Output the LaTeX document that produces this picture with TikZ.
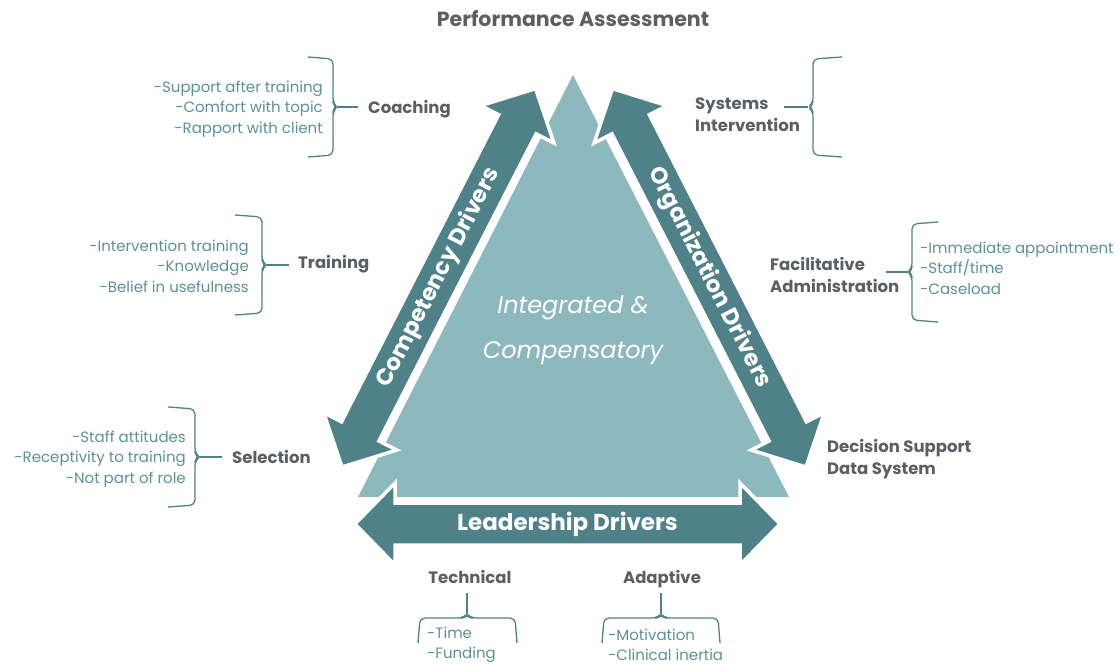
\documentclass[tikz,border=0pt]{standalone}
\usepackage{fontspec}
\setmainfont{Poppins}
\usetikzlibrary{calc}
\definecolor{drvteal}{HTML}{4F8188}
\definecolor{trilight}{HTML}{8DB8BE}
\definecolor{lblgray}{HTML}{595F63}
\definecolor{itemteal}{HTML}{5B9198}
\tikzset{
  lbl/.style={font=\fontsize{16.5}{22}\selectfont\bfseries, text=lblgray, inner sep=0, align=left},
  items/.style={font=\fontsize{15}{20.5}\selectfont, text=itemteal, inner sep=0},
  brc/.style={draw=drvteal, line width=1.3pt, rounded corners=5pt},
  drv/.style={fill=drvteal, draw=white, line width=3.5pt, line join=miter},
  drvtxt/.style={font=\fontsize{23}{26}\selectfont\bfseries, text=white, inner sep=0},
}

\begin{document}
\begin{tikzpicture}[x=1pt, y=-1pt]
\useasboundingbox (0,0) rectangle (1119,665);
% inner triangle
\fill[trilight] (573,75) -- (789,497) -- (358,497) -- cycle;
\node[font=\fontsize{24}{45}\selectfont\itshape, text=white, align=center] (integ) at (573,330) {Integrated \&\\Compensatory};
% the three driver arrows
\foreach \px/\py/\ang/\tang/\txt in {355/524/0/0/Leadership Drivers, 342/467/62.9/62.9/Competency Drivers, 806/467/117.1/-62.9/Organization Drivers} {
 \begin{scope}[shift={(\px,\py)}, rotate=\ang]
 \draw[drv] (0,0) -- (40,-41) -- (40,-21) -- (385,-21) -- (385,-41) -- (425,0) -- (385,41) -- (385,21) -- (40,21) -- (40,41) -- cycle;
 \node[drvtxt, rotate=\tang] at (212.5,0) {\txt};
 \end{scope}
}
% labels
\node[lbl, font=\fontsize{20.5}{22}\selectfont\bfseries] (perf) at (573,19) {Performance Assessment};
\node[lbl, anchor=west] (coach) at (368,109) {Coaching};
\node[lbl, anchor=west] (train) at (298,264) {Training};
\node[lbl, anchor=west] (select) at (232,457) {Selection};
\node[lbl, anchor=west] (sysint) at (695,115) {Systems\\Intervention};
\node[lbl, anchor=west] (facil) at (770,275) {Facilitative\\Administration};
\node[lbl, anchor=west] (dsds) at (827,459) {Decision Support\\Data System};
\node[lbl, anchor=base] (tech) at (470,583) {Technical};
\node[lbl, anchor=base] (adapt) at (662,583) {Adaptive};
% items
\node[items, anchor=east, align=right] (coachit) at (323,109) {-Support after training\\-Comfort with topic\\-Rapport with client};
\node[items, anchor=east, align=right] (trainit) at (249,266) {-Intervention training\\-Knowledge\\-Belief in usefulness};
\node[items, anchor=east, align=right] (selectit) at (186,459) {-Staff attitudes\\-Receptivity to training\\-Not part of role};
\node[items, anchor=west, align=left] (facilit) at (920,268) {-Immediate appointment\\-Staff/time\\-Caseload};
\node[items, anchor=west, align=left] (techit) at (427,645) {-Time\\-Funding};
\node[items, anchor=west, align=left] (adaptit) at (608,645) {-Motivation\\-Clinical inertia};
% side braces
\foreach \xa/\xb/\ym in {308/333/107, 235/262/265, 168/195/457, 842/813/107, 938/912/272} {
 \pgfmathsetmacro\xt{\xb+0.16*(\xb-\xa)}
 \pgfmathsetmacro\xe{\xb+(\xb-\xa)}
 \draw[brc] (\xa,\ym-50) -- (\xb,\ym-48) -- (\xb,\ym-4) -- (\xt,\ym) -- (\xb,\ym+4) -- (\xb,\ym+48) -- (\xa,\ym+50);
 \draw[brc] (\xt,\ym) -- (\xe,\ym);
}
% bottom braces
\foreach \xa/\xb/\xm in {418/517/467, 602/720/661} {
 \draw[brc] (\xa,643) -- (\xa+2,618) -- (\xm-4,618) -- (\xm,614) -- (\xm+4,618) -- (\xb-2,618) -- (\xb,643);
 \draw[brc] (\xm,614) -- (\xm,593);
}
\end{tikzpicture}
\end{document}
